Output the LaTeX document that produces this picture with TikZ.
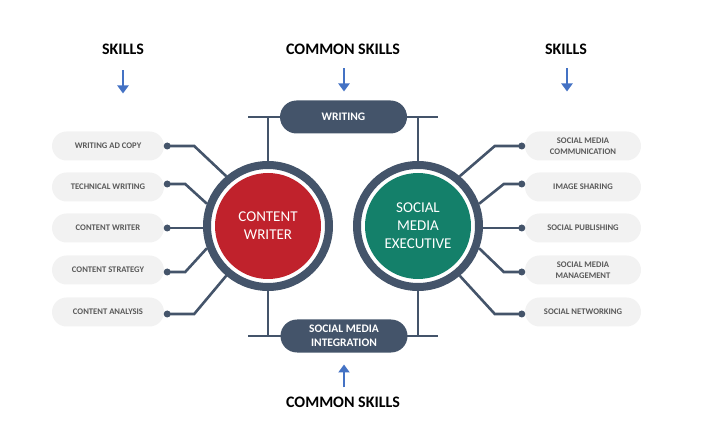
\documentclass[tikz,border=0pt]{standalone}
\usepackage{fontspec}
\setmainfont{Carlito}
\usepackage{tikz}
\usetikzlibrary{shapes.misc, arrows.meta, positioning, calc}
\definecolor{cSlate}{HTML}{44546A}
\definecolor{cRed}{HTML}{C0222C}
\definecolor{cGreen}{HTML}{14806A}
\definecolor{cBlue}{HTML}{4472C4}
\definecolor{cLight}{HTML}{F2F2F2}
\definecolor{cText}{HTML}{595959}
\tikzset{
  heading/.style={font=\fontsize{16}{19}\selectfont\bfseries, text=black, inner sep=2pt},
  pill/.style={
    rounded rectangle, fill=cLight, text=cText, align=center,
    minimum width=112pt, minimum height=29pt, inner sep=0pt,
    font=\fontsize{8.6}{11}\selectfont\bfseries
  },
  rpill/.style={pill, minimum width=116pt},
  cpill/.style={
    rounded rectangle, fill=cSlate, text=white, align=center,
    minimum width=127pt, minimum height=33pt, inner sep=0pt,
    font=\fontsize{11.5}{14}\selectfont\bfseries
  },
  ring/.style={circle, draw=cSlate, line width=8pt, fill=white,
    minimum size=122pt, inner sep=0pt},
  core/.style={circle, fill=#1, minimum size=106pt, inner sep=0pt,
    text=white, align=center, font=\fontsize{15}{18}\selectfont},
  dot/.style={circle, fill=cSlate, inner sep=0pt, minimum size=7pt},
  link/.style={draw=cSlate, line width=2.6pt},
  bar/.style={draw=cSlate, line width=2.2pt},
  arrow/.style={-{Triangle[length=8pt, width=11pt]}, line width=2.6pt, cBlue},
}
\begin{document}
\begin{tikzpicture}[x=1pt, y=1pt]
  \useasboundingbox (0,0) rectangle (721,421);

  % headings
  \node[heading] (skl) at (123,372) {SKILLS};
  \node[heading] (skc) at (343,372) {COMMON SKILLS};
  \node[heading] (skr) at (566,372) {SKILLS};
  \node[heading] (skb) at (343,19) {COMMON SKILLS};

  \draw[arrow] ([yshift=-14pt]skl.south) -- ++(0,-23);
  \draw[arrow] ([yshift=-12pt, xshift=1pt]skc.south) -- ++(0,-23);
  \draw[arrow] ([yshift=-12pt, xshift=1pt]skr.south) -- ++(0,-23);
  \draw[arrow] ([yshift=7pt, xshift=1pt]skb.north) -- ++(0,23);

  % the two roles
  \node[ring] (cw) at (268,195) {};
  \node[core=cRed] (cwin) at (cw) {CONTENT\\WRITER};
  \node[ring] (cs) at (418,195) {};
  \node[core=cGreen] (csin) at (cs) {SOCIAL\\MEDIA\\EXECUTIVE};

  % common skills
  \coordinate (wl) at (248,304);
  \coordinate (wrr) at (438,304);
  \draw[bar] (wl) -- (wrr);
  \draw[bar] (cw.north) -- (cw.north |- wl);
  \draw[bar] (cs.north) -- (cs.north |- wl);
  \node[cpill] (wr) at (343.5,304) {WRITING};

  \coordinate (il) at (248,85);
  \coordinate (irr) at (438,85);
  \draw[bar] (il) -- (irr);
  \draw[bar] (cw.south) -- (cw.south |- il);
  \draw[bar] (cs.south) -- (cs.south |- il);
  \node[cpill] (smi) at (344,85) {SOCIAL MEDIA\\INTEGRATION};

  % content writer skills
  \node[pill] (wac) at (108,275) {WRITING AD COPY};
  \node[pill] (tw)  at (108,234) {TECHNICAL WRITING};
  \node[pill] (cwr) at (108,193) {CONTENT WRITER};
  \node[pill] (cst) at (108,151) {CONTENT STRATEGY};
  \node[pill] (can) at (108,109) {CONTENT ANALYSIS};

  \node[dot] (d1) at ([xshift=3pt]wac.east) {};
  \node[dot] (d2) at ([xshift=3pt, yshift=3pt]tw.east) {};
  \node[dot] (d3) at ([xshift=3pt]cwr.east) {};
  \node[dot] (d4) at ([xshift=3pt, yshift=-2pt]cst.east) {};
  \node[dot] (d5) at ([xshift=3pt, yshift=-2pt]can.east) {};

  \draw[link] (d1.center) -- ++(27,0) -- (cw.130);
  \draw[link] (d2.center) -- ++(18,0) -- (cw.160);
  \draw[link] (d3.center) -- (d3 -| cw.west);
  \draw[link] (d4.center) -- ++(18,0) -- (cw.200);
  \draw[link] (d5.center) -- ++(27,0) -- (cw.230);

  % social media executive skills
  \node[rpill] (smc) at (583,275) {SOCIAL MEDIA\\COMMUNICATION};
  \node[rpill] (ims) at (583,234) {IMAGE SHARING};
  \node[rpill] (spu) at (583,193) {SOCIAL PUBLISHING};
  \node[rpill] (smm) at (583,151) {SOCIAL MEDIA\\MANAGEMENT};
  \node[rpill] (sne) at (583,109) {SOCIAL NETWORKING};

  \node[dot] (d6)  at ([xshift=-3pt]smc.west) {};
  \node[dot] (d7)  at ([xshift=-3pt, yshift=3pt]ims.west) {};
  \node[dot] (d8)  at ([xshift=-3pt]spu.west) {};
  \node[dot] (d9)  at ([xshift=-3pt, yshift=-2pt]smm.west) {};
  \node[dot] (d10) at ([xshift=-3pt, yshift=-2pt]sne.west) {};

  \draw[link] (d6.center)  -- ++(-27,0) -- (cs.50);
  \draw[link] (d7.center)  -- ++(-18,0) -- (cs.20);
  \draw[link] (d8.center)  -- (d8 -| cs.east);
  \draw[link] (d9.center)  -- ++(-18,0) -- (cs.-20);
  \draw[link] (d10.center) -- ++(-27,0) -- (cs.-50);

\end{tikzpicture}
\end{document}
